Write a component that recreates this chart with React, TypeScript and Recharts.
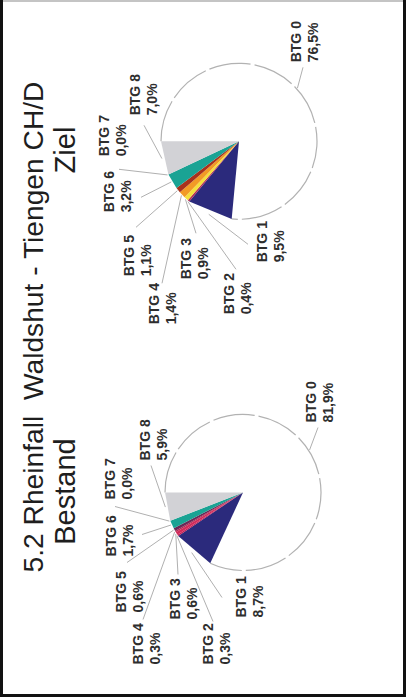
import React from 'react';
import { PieChart, Pie, Cell } from 'recharts';

// Betriebstypengruppen, BTG 0 bis BTG 8
const categories = ['BTG 0', 'BTG 1', 'BTG 2', 'BTG 3', 'BTG 4', 'BTG 5', 'BTG 6', 'BTG 7', 'BTG 8'];
const bestandValues = [81.9, 8.7, 0.3, 0.6, 0.3, 0.6, 1.7, 0.0, 5.9];
const zielValues = [76.5, 9.5, 0.4, 0.9, 1.4, 1.1, 3.2, 0.0, 7.0];

const bestandColors = ['#ffffff', '#2b2a7c', '#c21f55', '#d32a5a', '#b8224f', '#6a2a58', '#1aa394', '#a8dce6', '#d2d2d6'];
const zielColors = ['#ffffff', '#2b2a7c', '#b23058', '#f5e03c', '#f29a26', '#a8321c', '#1aa394', '#a8dce6', '#d2d2d6'];

const mainTitle = '5.2 Rheinfall  Waldshut - Tiengen CH/D';
const bestandTitle = 'Bestand';
const zielTitle = 'Ziel';

// the page is a landscape slide turned on its side
const W = 699;
const H = 406;
const R = 78;

// label placement relative to the pie centre: [text start x, baseline of 2nd line]
const bestandTextPos = [[70, 90], [-125, 20], [-172, -13], [-127, -46], [-172, -83], [-120, -100], [-64, -110], [-7, -111], [32, -76]];
const zielTextPos = [[79, 79], [-121, 45], [-173, 12], [-138, -31], [-183, -63], [-135, -88], [-71, -108], [-15, -113], [26, -82]];
// outer end of the leader lines
const bestandLineEnd = [[65, 75], [-105, -21], [-129, -30], [-82, -65], [-127, -100], [-70, -116], [-42, -101], [-14, -128], [27, -92]];
const zielLineEnd = [[74, 64], [-103, 9], [-128, -3], [-92, -43], [-142, -77], [-86, -103], [-56, -98], [-28, -120], [16, -95]];

const toData = (values: number[]) => categories.map((name, i) => ({ name, value: values[i] }));
const fmt = (v: number) => v.toFixed(1).replace('.', ',') + '%';
const RAD = Math.PI / 180;
const labelFont = "'Liberation Sans', Arial, sans-serif";

const Wedge = (props: any) => {
  const { cx, cy, outerRadius, startAngle, endAngle, fill, name } = props;
  const pt = (a: number) => [cx + outerRadius * Math.cos(-a * RAD), cy + outerRadius * Math.sin(-a * RAD)];
  const [x1, y1] = pt(startAngle);
  const [x2, y2] = pt(endAngle);
  if (name === 'BTG 0') {
    const large = Math.abs(endAngle - startAngle) > 180 ? 1 : 0;
    return (
      <g>
        <path d={`M${cx},${cy} L${x1},${y1} A${outerRadius},${outerRadius} 0 ${large} 1 ${x2},${y2} Z`} fill="#fff" stroke="none" />
        <path d={`M${x1},${y1} A${outerRadius},${outerRadius} 0 ${large} 1 ${x2},${y2}`} fill="none" stroke="#b2b2b2" strokeWidth={1.2} strokeDasharray="42 4" />
      </g>
    );
  }
  if (Math.abs(endAngle - startAngle) < 0.01) return <g />;
  return <polygon points={`${cx},${cy} ${x1},${y1} ${x2},${y2}`} fill={fill} stroke="none" />;
};

const makeLabel = (textPos: number[][], lineEnd: number[][]) => (props: any) => {
  const { cx, cy, midAngle, index, value } = props;
  const r = R + 1;
  const sx = cx + r * Math.cos(-midAngle * RAD);
  const sy = cy + r * Math.sin(-midAngle * RAD);
  const [tx, ty] = textPos[index];
  const [ex, ey] = lineEnd[index];
  return (
    <g key={`lbl-${index}`}>
      <line x1={sx} y1={sy} x2={cx + ex} y2={cy + ey} stroke="#b0b0b0" strokeWidth={1} />
      <text x={cx + tx} y={cy + ty - 17} fontSize={14} fontWeight="bold" fill="#2e2e2e" fontFamily={labelFont}>
        {categories[index]}
      </text>
      <text x={cx + tx} y={cy + ty} fontSize={14} fontWeight="bold" fill="#2e2e2e" fontFamily={labelFont}>
        {fmt(value)}
      </text>
    </g>
  );
};

export default function App() {
  const bestandData = toData(bestandValues);
  const zielData = toData(zielValues);
  const titleFont = "'Liberation Sans', Arial, sans-serif";

  return (
    <div style={{ position: 'absolute', left: 0, top: 0, width: 406, height: 699, background: '#fff', overflow: 'hidden' }}>
      <div
        style={{
          position: 'absolute',
          left: 0,
          top: 0,
          width: W,
          height: H,
          transform: `translate(0px, ${W}px) rotate(-90deg)`,
          transformOrigin: '0 0',
        }}
      >
        <div style={{ position: 'absolute', left: 0, top: 0 }}>
          <PieChart width={W} height={H} margin={{ top: 0, right: 0, bottom: 0, left: 0 }}>
            <Pie
              data={bestandData}
              dataKey="value"
              nameKey="name"
              cx={206.5}
              cy={243}
              outerRadius={R}
              startAngle={90}
              endAngle={-270}
              shape={Wedge}
              label={makeLabel(bestandTextPos, bestandLineEnd)}
              labelLine={false}
              isAnimationActive={false}
            >
              {bestandData.map((_d, i) => (
                <Cell key={`b-${i}`} fill={bestandColors[i]} />
              ))}
            </Pie>
            <Pie
              data={zielData}
              dataKey="value"
              nameKey="name"
              cx={557.7}
              cy={239}
              outerRadius={R}
              startAngle={90}
              endAngle={-270}
              shape={Wedge}
              label={makeLabel(zielTextPos, zielLineEnd)}
              labelLine={false}
              isAnimationActive={false}
            >
              {zielData.map((_d, i) => (
                <Cell key={`z-${i}`} fill={zielColors[i]} />
              ))}
            </Pie>
          </PieChart>
        </div>
        <svg width={W} height={H} style={{ position: 'absolute', left: 0, top: 0, pointerEvents: 'none' }}>
          <text x={372} y={43} textAnchor="middle" fontSize={28.2} fill="#1e1e1e" fontFamily={titleFont} style={{ whiteSpace: 'pre' }}>
            {mainTitle}
          </text>
          <text x={207.5} y={75} textAnchor="middle" fontSize={29} fill="#1e1e1e" fontFamily={titleFont}>
            {bestandTitle}
          </text>
          <text x={549} y={75} textAnchor="middle" fontSize={29} fill="#1e1e1e" fontFamily={titleFont}>
            {zielTitle}
          </text>
        </svg>
      </div>
      <div style={{ position: 'absolute', left: 0, top: 0, width: 406, height: 1.5, background: '#c4c4c4' }} />
      <div style={{ position: 'absolute', left: 0, top: 0, width: 3, height: 697, background: '#111' }} />
      <div style={{ position: 'absolute', left: 403, top: 0, width: 3, height: 697, background: '#111' }} />
      <div style={{ position: 'absolute', left: 0, top: 694, width: 406, height: 3, background: '#111' }} />
    </div>
  );
}
